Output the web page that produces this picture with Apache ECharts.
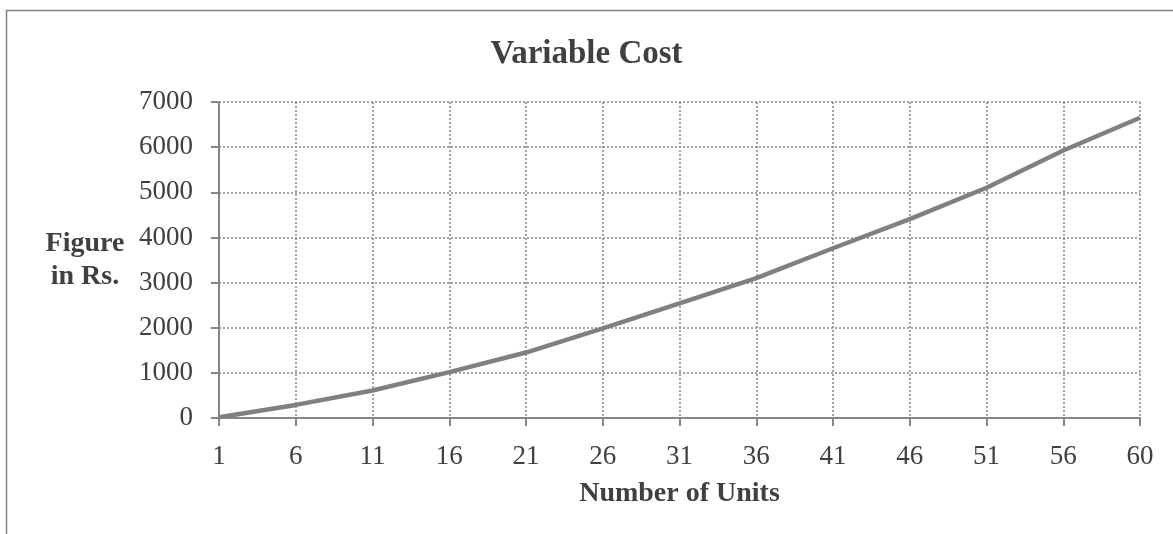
<!DOCTYPE html>
<html>
<head>
<meta charset="utf-8">
<script src="https://cdn.jsdelivr.net/npm/echarts@6/dist/echarts.min.js"></script>
<style>
  html, body { margin: 0; padding: 0; background: #fff; }
  #chart { width: 1173px; height: 534px; }
</style>
</head>
<body>
<div id="chart"></div>
<script>
// units produced (x axis categories)
const units = ['1', '6', '11', '16', '21', '26', '31', '36', '41', '46', '51', '56', '60'];
// variable cost in Rs.
const variableCost = [15, 290, 610, 1015, 1450, 1985, 2540, 3100, 3760, 4405, 5100, 5925, 6650];
const yTicks = { min: 0, max: 7000, interval: 1000 };

const font = 'Liberation Serif';
const textColor = '#404040';
const axisGray = '#868686';

const myChart = echarts.init(document.getElementById('chart'));

const option = {
  backgroundColor: '#ffffff',
  animation: false,
  title: {
    text: 'Variable Cost',
    left: 'center',
    top: 33,
    textStyle: { fontFamily: font, fontSize: 33, fontWeight: 'bold', color: textColor }
  },
  graphic: [
    {
      type: 'rect',
      shape: { x: 6.5, y: 10.5, width: 1400, height: 700 },
      style: { fill: 'none', stroke: '#828282', lineWidth: 1.5 },
      silent: true
    }
  ],
  grid: {
    left: 219,
    right: 33,
    top: 102,
    bottom: 116
  },
  xAxis: {
    type: 'category',
    data: units,
    boundaryGap: false,
    name: 'Number of Units',
    nameLocation: 'middle',
    nameGap: 62,
    nameTextStyle: { fontFamily: font, fontSize: 28, fontWeight: 'bold', color: textColor },
    axisLine: { lineStyle: { color: axisGray, width: 2 } },
    axisTick: { show: true, length: 8, lineStyle: { color: axisGray, width: 2 } },
    axisLabel: { interval: 0, margin: 25, fontFamily: font, fontSize: 27, color: textColor },
    splitLine: { show: true, interval: 0, lineStyle: { color: axisGray, width: 1.5, type: [2, 2] } }
  },
  yAxis: {
    type: 'value',
    min: yTicks.min,
    max: yTicks.max,
    interval: yTicks.interval,
    name: 'Figure\nin Rs.',
    nameLocation: 'middle',
    nameRotate: 0,
    nameGap: 134,
    nameTextStyle: {
      fontFamily: font, fontSize: 28, fontWeight: 'bold', color: textColor,
      align: 'center', verticalAlign: 'middle', lineHeight: 33,
      padding: [6, 0, 0, 0]
    },
    axisLine: { show: true, lineStyle: { color: axisGray, width: 2 } },
    axisTick: { show: true, length: 8, lineStyle: { color: axisGray, width: 2 } },
    axisLabel: {
      margin: 26, fontFamily: font, fontSize: 27, color: textColor,
      formatter: (v) => String(v)
    },
    splitLine: { show: true, lineStyle: { color: axisGray, width: 1.5, type: [2, 2] } }
  },
  series: [
    {
      name: 'Variable Cost',
      type: 'line',
      data: variableCost,
      symbol: 'none',
      smooth: false,
      lineStyle: { color: '#808080', width: 4.5 }
    }
  ]
};

myChart.setOption(option);
</script>
</body>
</html>
